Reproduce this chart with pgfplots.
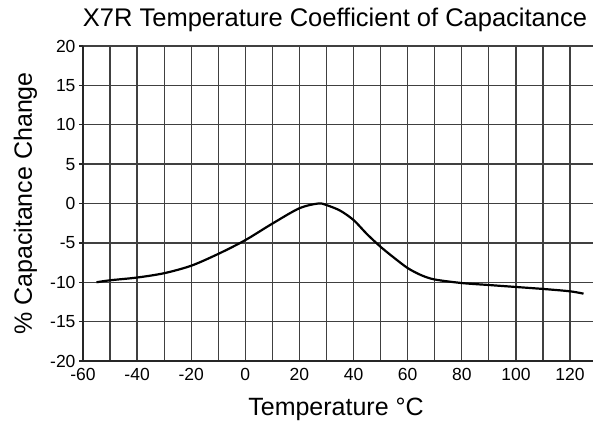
\documentclass[border=0pt]{standalone}
\usepackage{pgfplots}
\pgfplotsset{compat=1.18}
\usepackage{fontspec}
\setmainfont{Liberation Sans}
\begin{document}
\begin{tikzpicture}
\begin{axis}[
  name=ax,
  scale only axis,
  width=510pt, height=315pt,
  xmin=-60, xmax=128.5,
  ymin=-20, ymax=20,
  axis lines=left,
  axis line style={-, line width=1.3pt, black!85},
  xtick={-60,-40,...,120},
  minor xtick={-50,-30,...,110},
  ytick={-20,-15,...,20},
  grid=both,
  major grid style={line width=1.3pt, black!75},
  minor grid style={line width=1.3pt, black!75},
  tick align=outside,
  major tick length=4pt,
  minor tick length=0pt,
  xtick style={draw=none},
  ytick style={line width=1.3pt, black!85},
  extra x ticks={-60,-10,40,90},
  extra x tick labels={},
  extra x tick style={grid=none, major tick length=6pt, tick style={line width=1.3pt, draw=black!85}},
  /pgf/number format/assume math mode=true,
  tick label style={font=\fontsize{17.5}{20}\selectfont},
  title={X7R Temperature Coefficient of Capacitance},
  title style={font=\fontsize{25.5}{28}\selectfont, at={(0.5,1)}, anchor=base, yshift=13pt, xshift=-3pt},
  xlabel={Temperature °C},
  xlabel style={font=\fontsize{25}{28}\selectfont, at={(0.5,0)}, anchor=base, yshift=-54pt, xshift=-2pt},
  ylabel={\% Capacitance Change},
  ylabel style={font=\fontsize{25}{28}\selectfont, at={(0,0.5)}, anchor=base, yshift=51pt},
  clip=false,
]
\addplot[black, line width=2.2pt, smooth, tension=0.5] coordinates {
(-55,-10) (-50,-9.75) (-40,-9.4) (-30,-8.85) (-20,-7.9) (-10,-6.4) (0,-4.65)
(10,-2.55) (20,-0.6) (27,0) (30,-0.2) (35,-0.9) (40,-2.1) (45,-3.9) (50,-5.5)
(55,-6.9) (60,-8.2) (65,-9.1) (70,-9.65) (80,-10.1) (90,-10.35) (100,-10.6)
(110,-10.85) (120,-11.15) (125,-11.45)
};
\end{axis}
\pgfresetboundingbox
\path ([shift={(-83pt,-59pt)}]ax.south west) rectangle ([shift={(0pt,46pt)}]ax.north east);
\end{tikzpicture}
\end{document}
